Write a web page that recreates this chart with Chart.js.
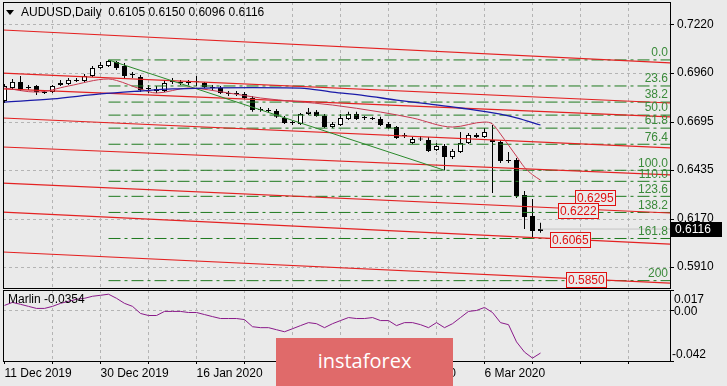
<!DOCTYPE html>
<html>
<head>
<meta charset="utf-8">
<script src="https://cdn.jsdelivr.net/npm/chart.js@4.4.1/dist/chart.umd.min.js"></script>
<style>
  html, body { margin: 0; padding: 0; background: #eaeaea; }
  #wrap { position: relative; width: 727px; height: 386px; overflow: hidden; background: #eaeaea; }
  #mainBox { position: absolute; left: 0; top: 0; }
  #subBox { position: absolute; left: 0; top: 289px; }
  .wm { position: absolute; left: 276px; top: 338px; width: 177px; height: 48px;
        background: #e06a6a; color: #fff; font: 20px "Open Sans", sans-serif;
        text-align: center; line-height: 46px; }
</style>
</head>
<body>
<div id="wrap">
  <div id="mainBox"><canvas id="mainChart" width="727" height="289"></canvas></div>
  <div id="subBox"><canvas id="subChart" width="727" height="97"></canvas></div>
  <div class="wm">instaforex</div>
</div>
<script>
// ---- data ----
const symbol = 'AUDUSD', period = 'Daily';
// one label every 12 bars, starting at bar 0
const dateLabels = ['11 Dec 2019', '30 Dec 2019', '16 Jan 2020', '3 Feb 2020', '19 Feb 2020', '6 Mar 2020'];

const opens = [
  .6809,.6879,.6912,.6879,.6890,.6852,.6858,.6895,.6901,.6917,
  .6917,.6944,.6987,.6998,.7020,.6998,.6950,.6939,.6874,.6874,
  .6863,.6912,.6912,.6906,.6912,.6906,.6885,.6879,.6852,.6847,
  .6847,.6825,.6760,.6755,.6755,.6717,.6690,.6684,.6739,.6750,
  .6728,.6668,.6679,.6712,.6739,.6717,.6717,.6712,.6684,.6668,
  .6620,.6582,.6603,.6598,.6544,.6565,.6506,.6533,.6582,.6625,
  .6614,.6598,.6587,.6484,.6490,.6300,.6187,.6105];
const highs = [
  .6901,.6928,.6944,.6895,.6895,.6868,.6895,.6923,.6933,.6933,
  .6955,.6998,.7020,.7031,.7025,.7014,.6966,.6950,.6895,.6890,
  .6923,.6933,.6923,.6923,.6944,.6912,.6895,.6890,.6863,.6863,
  .6858,.6836,.6776,.6771,.6766,.6728,.6701,.6744,.6771,.6760,
  .6739,.6695,.6739,.6750,.6750,.6728,.6723,.6723,.6695,.6674,
  .6636,.6614,.6620,.6614,.6582,.6576,.6549,.6641,.6636,.6636,
  .6663,.6679,.6598,.6533,.6501,.6322,.6279,.6150];
const lows = [
  .6798,.6874,.6863,.6868,.6841,.6847,.6852,.6890,.6895,.6912,
  .6912,.6939,.6982,.6993,.6977,.6933,.6933,.6858,.6852,.6852,
  .6858,.6901,.6895,.6895,.6890,.6879,.6868,.6847,.6836,.6836,
  .6820,.6750,.6750,.6744,.6717,.6684,.6679,.6679,.6733,.6723,
  .6663,.6663,.6674,.6706,.6706,.6706,.6706,.6674,.6658,.6603,
  .6609,.6576,.6593,.6533,.6539,.6434,.6495,.6528,.6576,.6609,
  .6609,.6311,.6474,.6474,.6284,.6116,.6073,.6096];
const closes = [
  .6890,.6912,.6874,.6885,.6858,.6858,.6890,.6906,.6923,.6923,
  .6944,.6987,.7004,.7025,.6987,.6944,.6955,.6868,.6879,.6863,
  .6906,.6917,.6906,.6912,.6910,.6885,.6879,.6852,.6847,.6852,
  .6825,.6760,.6762,.6757,.6723,.6690,.6692,.6739,.6750,.6728,
  .6668,.6684,.6717,.6739,.6712,.6719,.6712,.6679,.6663,.6609,
  .6625,.6603,.6601,.6539,.6565,.6506,.6539,.6582,.6625,.6614,
  .6641,.6587,.6484,.6488,.6295,.6181,.6105,.6116];

const marlin = [
  .0042,.0067,.0051,.0034,.0017,.0017,.0034,.0059,.0076,.0093,
  .0101,.0118,.0126,.0135,.0101,.0059,.0034,-.0025,-.0042,-.0042,
  -.0008,-.0008,-.0008,-.0017,-.0017,-.0034,-.0051,-.0067,-.0067,-.0067,
  -.0076,-.0135,-.0143,-.0143,-.0160,-.0177,-.0152,-.0126,-.0101,-.0110,
  -.0143,-.0110,-.0084,-.0059,-.0067,-.0067,-.0059,-.0084,-.0084,-.0126,
  -.0101,-.0101,-.0118,-.0143,-.0101,-.0143,-.0110,-.0059,-.0008,.0000,
  .0025,-.0017,-.0101,-.0118,-.0261,-.0346,-.0396,-.0354];

const priceTicks = [0.7220, 0.6960, 0.6695, 0.6435, 0.6170, 0.5910];
const marlinTicks = [-0.042, 0.00, 0.017];
const gridBars = [0, 6, 12, 18, 24, 30, 36, 42, 48, 54, 60, 66, 72, 78];

// moving averages (bar, price)
const blueBars = [0, 6, 12, 17, 21, 25, 31, 37, 41, 45, 49, 53, 57, 62, 64, 67];
const blueVals = [.6803,.6820,.6847,.6863,.6874,.6879,.6881,.6879,.6857,.6838,.6814,.6793,.6771,.6738,.6717,.6679];
const redBars = [0, 4, 8, 13, 14, 17, 19, 23, 28, 32, 41, 47, 51, 56, 60, 61, 62, 63, 64, 65, 66, 67];
const redVals = [.6879,.6857,.6890,.6928,.6920,.6874,.6852,.6879,.6852,.6825,.6787,.6749,.6717,.6668,.6695,.6684,.6630,.6570,.6510,.6450,.6410,.6381];

// red channel lines: price at the left edge and at the right edge
const chanLeft  = [.7193, .6960, .6874, .6717, .6560, .6365, .6208, .5992];
const chanRight = [.7015, .6798, .6723, .6555, .6409, .6203, .6035, .5824];

// fibonacci from the 31 Dec high to the 28 Feb low
const fibBar = 13, fibHigh = 0.7031, fibLow = 0.6434;
const fibRatios = [0, 23.6, 38.2, 50, 61.8, 76.4, 100, 110, 123.6, 138.2, 161.8, 200];
const fibNames = ['0.0', '23.6', '38.2', '50.0', '61.8', '76.4', '100.0', '110.0', '123.6', '138.2', '161.8', '200'];
const trendBars = [13, 55];
const trendVals = [0.7031, 0.6434];

// red price notes
const noteTexts = ['0.6295', '0.6222', '0.6065', '0.5850'];
const noteVals = [0.6295, 0.6222, 0.6065, 0.5850];
const noteBars = [71.3, 69.2, 68.2, 70.2];

// ---- look ----
const BG = '#eaeaea';
const GRID = '#b4b4b4';
const FONT = '12px "Liberation Sans", Arial, sans-serif';
const FONT_OBJ = { family: '"Liberation Sans", Arial, sans-serif', size: 12 };
const X_MIN = -0.1875, X_MAX = 83.1875;
const Y_MIN = 0.57972, Y_MAX = 0.73444;
const last = closes.length - 1;
const f4 = v => v.toFixed(4);

const bgPlugin = {
  id: 'bg',
  beforeDraw(c) {
    const g = c.ctx;
    g.save(); g.fillStyle = BG; g.fillRect(0, 0, c.width, c.height); g.restore();
  }
};
const framePlugin = {
  id: 'frame',
  afterDraw(c) {
    const a = c.chartArea, g = c.ctx;
    g.save(); g.strokeStyle = '#000'; g.lineWidth = 1;
    g.strokeRect(a.left + 0.5, a.top + 0.5, a.right - a.left, a.bottom - a.top);
    g.restore();
  }
};

function lineSet(xs, ys, color, width, order, dash) {
  return {
    type: 'line', data: xs.map((x, i) => ({ x: x, y: ys[i] })),
    borderColor: color, borderWidth: width, borderDash: dash || [],
    pointRadius: 0, fill: false, tension: 0, order: order
  };
}

const mainSets = [];
mainSets.push(Object.assign(lineSet(blueBars, blueVals, '#1a1aa8', 1.3, 0), { cubicInterpolationMode: 'monotone' }));
mainSets.push(Object.assign(lineSet(redBars, redVals, '#c8384f', 1, 0), { cubicInterpolationMode: 'monotone' }));
mainSets.push(lineSet(trendBars, trendVals, '#2b8a2b', 1, 1));
chanLeft.forEach((p, i) => mainSets.push(lineSet([X_MIN, X_MAX], [p, chanRight[i]], '#e42222', 1.2, 1)));
fibRatios.forEach(r => {
  const p = fibHigh - r / 100 * (fibHigh - fibLow);
  mainSets.push(lineSet([fibBar, X_MAX], [p, p], '#1f7a1f', 1, 2, [12, 4, 3, 4]));
});
mainSets.push(lineSet([last, X_MAX], [closes[last], closes[last]], '#c4c4c4', 1, 3));
mainSets.push({
  type: 'bar', order: 5, grouped: false, barThickness: 5, minBarLength: 1, inflateAmount: 0,
  data: opens.map((o, i) => ({ x: i, y: [o, closes[i]] })),
  borderWidth: 1, borderColor: '#000', borderSkipped: false,
  backgroundColor: ctx => closes[ctx.dataIndex] >= opens[ctx.dataIndex] ? '#fff' : '#000'
});
mainSets.push({
  type: 'bar', order: 6, grouped: false, barThickness: 1, inflateAmount: 0,
  data: lows.map((l, i) => ({ x: i, y: [l, highs[i]] })),
  borderWidth: 0, backgroundColor: '#000'
});

const mainText = {
  id: 'mainText',
  afterDraw(c) {
    const g = c.ctx, a = c.chartArea, xs = c.scales.x, ys = c.scales.y;
    g.save();
    g.font = FONT; g.textBaseline = 'middle';
    // title
    g.fillStyle = '#000';
    g.beginPath(); g.moveTo(6, 10); g.lineTo(14, 10); g.lineTo(10, 15); g.closePath(); g.fill();
    g.textAlign = 'left';
    g.fillText(symbol + ',' + period + '  ' + [opens[last], highs[last], lows[last], closes[last]].map(f4).join(' '), 21, 13);
    // fibo level names
    g.fillStyle = '#3a8a3a'; g.textAlign = 'right';
    fibRatios.forEach((r, i) => {
      const p = fibHigh - r / 100 * (fibHigh - fibLow);
      g.fillText(fibNames[i], a.right - 2, ys.getPixelForValue(p) - 7);
    });
    // red notes
    g.save();
    g.beginPath(); g.rect(a.left, a.top, a.right - a.left, a.bottom - a.top); g.clip();
    g.textAlign = 'left';
    noteTexts.forEach((t, i) => {
      const w = Math.round(g.measureText(t).width) + 3;
      const left = Math.round(xs.getPixelForValue(noteBars[i]));
      const top = Math.round(ys.getPixelForValue(noteVals[i]) + 2 - 8);
      g.fillStyle = BG; g.fillRect(left, top, w, 16);
      g.strokeStyle = '#e01010'; g.lineWidth = 1; g.strokeRect(left + 0.5, top + 0.5, w, 15);
      g.fillStyle = '#e01010'; g.fillText(t, left + 2, top + 8.5);
    });
    g.restore();
    // current price box
    const yp = Math.round(ys.getPixelForValue(closes[last]));
    g.fillStyle = '#000'; g.fillRect(a.right + 1, yp - 7, 51, 15);
    g.fillStyle = '#fff'; g.textAlign = 'left';
    g.fillText(f4(closes[last]), a.right + 5, yp + 0.5);
    g.restore();
  }
};

new Chart(document.getElementById('mainChart'), {
  type: 'bar',
  data: { datasets: mainSets },
  options: {
    responsive: false, animation: false, events: [],
    layout: { padding: { top: 2, left: 3, right: 0, bottom: 1 } },
    plugins: { legend: { display: false }, tooltip: { enabled: false } },
    scales: {
      x: {
        type: 'linear', min: X_MIN, max: X_MAX, offset: false,
        afterBuildTicks: s => { s.ticks = gridBars.map(v => ({ value: v })); },
        afterFit: s => { s.height = 0; s.paddingLeft = 0; s.paddingRight = 0; },
        ticks: { display: false },
        grid: { offset: false, drawTicks: false, color: ctx => ctx.tick && ctx.tick.value === 0 ? 'rgba(0,0,0,0)' : GRID },
        border: { display: false, dash: [3, 3] }
      },
      y: {
        position: 'right', min: Y_MIN, max: Y_MAX,
        afterBuildTicks: s => { s.ticks = priceTicks.map(v => ({ value: v })); },
        afterFit: s => { s.width = 57; s.paddingTop = 0; s.paddingBottom = 0; },
        ticks: { color: '#000', font: FONT_OBJ, padding: 3, callback: v => v.toFixed(4) },
        grid: { color: GRID, tickColor: '#000', tickLength: 4 },
        border: { display: false, dash: [3, 3] }
      }
    }
  },
  plugins: [bgPlugin, framePlugin, mainText]
});

const subText = {
  id: 'subText',
  afterDraw(c) {
    const g = c.ctx, a = c.chartArea, ys = c.scales.y;
    g.save();
    g.font = FONT; g.textBaseline = 'middle'; g.fillStyle = '#000'; g.textAlign = 'left';
    g.fillText('Marlin ' + marlin[last].toFixed(4), 8, a.top + 10);
    g.fillText('0.017', a.right + 4, a.top + 10);
    g.fillText('0.00', a.right + 4, ys.getPixelForValue(0) + 1);
    g.fillText('-0.042', a.right + 2, a.bottom - 6);
    g.restore();
  }
};

new Chart(document.getElementById('subChart'), {
  type: 'line',
  data: { datasets: [{
    data: marlin.map((v, i) => ({ x: i, y: v })),
    borderColor: '#8a1a8a', borderWidth: 1, pointRadius: 0, fill: false, tension: 0
  }] },
  options: {
    responsive: false, animation: false, events: [],
    layout: { padding: { top: 1, left: 3, right: 0, bottom: 0 } },
    plugins: { legend: { display: false }, tooltip: { enabled: false } },
    scales: {
      x: {
        type: 'linear', min: X_MIN, max: X_MAX, offset: false,
        afterBuildTicks: s => { s.ticks = gridBars.map(v => ({ value: v })); },
        afterFit: s => { s.height = 25; s.paddingLeft = 0; s.paddingRight = 0; },
        ticks: {
          autoSkip: false, maxRotation: 0, minRotation: 0, align: 'start', padding: 2,
          color: '#000', font: FONT_OBJ,
          callback: v => (v % 12 === 0 && v / 12 < dateLabels.length) ? dateLabels[v / 12] : ''
        },
        grid: { offset: false, tickColor: '#000', tickLength: 3, color: ctx => ctx.tick && ctx.tick.value === 0 ? 'rgba(0,0,0,0)' : GRID },
        border: { display: false, dash: [3, 3] }
      },
      y: {
        position: 'right', min: -0.042, max: 0.017,
        afterBuildTicks: s => { s.ticks = marlinTicks.map(v => ({ value: v })); },
        afterFit: s => { s.width = 57; s.paddingTop = 0; s.paddingBottom = 0; },
        ticks: { display: false },
        grid: { tickColor: '#000', tickLength: 4, color: ctx => ctx.tick && ctx.tick.value === 0 ? GRID : 'rgba(0,0,0,0)' },
        border: { display: false, dash: [3, 3] }
      }
    }
  },
  plugins: [bgPlugin, framePlugin, subText]
});
</script>
</body>
</html>
